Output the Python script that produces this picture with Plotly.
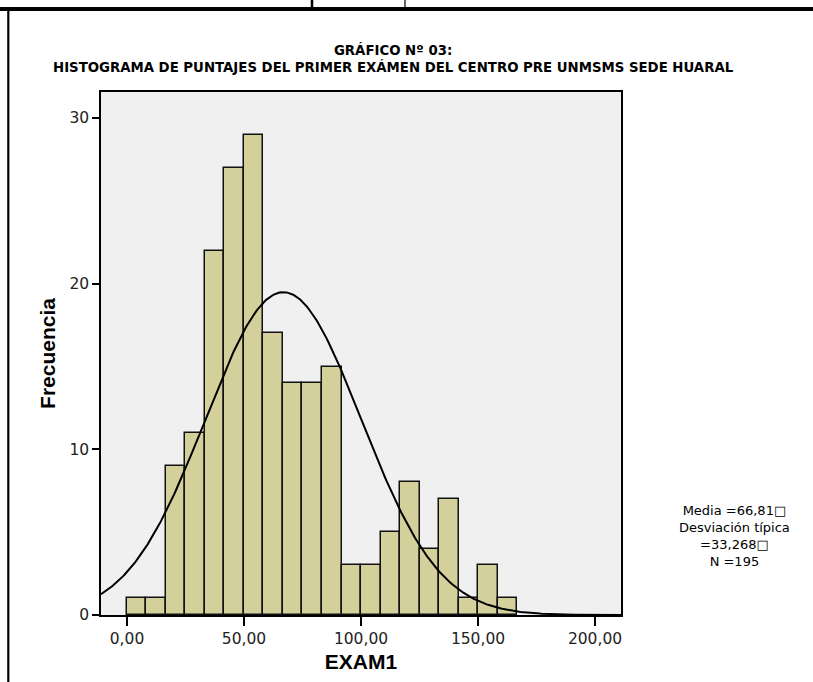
import numpy as np
import plotly.graph_objects as go

# ---- data ----
counts = [1, 1, 9, 11, 22, 27, 29, 17, 14, 14, 15, 3, 3, 5, 8, 4, 7, 1, 3, 1]
bin_start = 0.0
bin_width = 50.0 / 6.0
mean_val = 66.81
sd_val = 33.268
n_val = 195
x_tickvals = [0, 50, 100, 150, 200]
x_ticktext = ["0,00", "50,00", "100,00", "150,00", "200,00"]
y_tickvals = [0, 10, 20, 30]
title_lines = ["GRÁFICO Nº 03:",
               "HISTOGRAMA DE PUNTAJES DEL PRIMER EXÁMEN DEL CENTRO PRE UNMSMS SEDE HUARAL"]
stats_text = ["Media =66,81\u25a1", "Desviación típica", "=33,268\u25a1", "N =195"]

X_RANGE = [-11.1, 211.1]
Y_RANGE = [0, 31.57]

centers = [bin_start + (i + 0.5) * bin_width for i in range(len(counts))]

# normal curve from the reported statistics
xs = np.linspace(X_RANGE[0], X_RANGE[1], 400)
ys = n_val * bin_width / (sd_val * np.sqrt(2 * np.pi)) * np.exp(-0.5 * ((xs - mean_val) / sd_val) ** 2)

fig = go.Figure()
fig.add_trace(go.Bar(
    x=centers, y=counts, width=bin_width,
    marker=dict(color="#d3d09b", line=dict(color="#111111", width=1.5)),
    hoverinfo="x+y", showlegend=False,
))
fig.add_trace(go.Scatter(
    x=xs, y=ys, mode="lines", line=dict(color="#000000", width=2),
    hoverinfo="skip", showlegend=False,
))

SANS = "Liberation Sans, Arial, Helvetica, sans-serif"
WIDE = "DejaVu Sans, Verdana, sans-serif"

# page geometry helpers (pixels -> paper)
L, R, T, B = 101, 621, 92, 615
W, H = 813, 682
def px(x):
    return (x - L) / (R - L)
def py(y):
    return (B - y) / (B - T)

shapes = [
    # top thick band
    dict(type="rect", xref="paper", yref="paper", x0=px(-5), x1=px(820), y0=py(11), y1=py(7),
         fillcolor="black", line=dict(width=0), layer="above"),
    # small box on top
    dict(type="line", xref="paper", yref="paper", x0=px(312), x1=px(312), y0=py(8), y1=py(-5),
         line=dict(color="black", width=2.5)),
    dict(type="line", xref="paper", yref="paper", x0=px(405), x1=px(405), y0=py(8), y1=py(-5),
         line=dict(color="black", width=1.2)),
    # left vertical rule
    dict(type="line", xref="paper", yref="paper", x0=px(8.3), x1=px(8.3), y0=py(10), y1=py(690),
         line=dict(color="black", width=2.2)),
]

annotations = [
    dict(text="<b>" + "<br>".join(title_lines) + "</b>", xref="paper", yref="paper",
         x=px(393), y=py(59), xanchor="center", yanchor="middle", showarrow=False,
         align="center", font=dict(family=WIDE, size=13.3, color="#000000")),
    dict(text="<br>".join(stats_text), xref="paper", yref="paper",
         x=px(734), y=py(536), xanchor="center", yanchor="middle", showarrow=False,
         align="center", font=dict(family=WIDE, size=13, color="#000000")),
]

fig.update_layout(
    width=W, height=H,
    margin=dict(l=L, r=W - R, t=T, b=H - B),
    paper_bgcolor="white", plot_bgcolor="#f0f0f0",
    bargap=0,
    shapes=shapes, annotations=annotations,
    font=dict(family=SANS, size=13, color="#000000"),
)
fig.update_xaxes(
    range=X_RANGE, tickvals=x_tickvals, ticktext=x_ticktext,
    ticks="outside", ticklen=9, tickwidth=2, tickcolor="black",
    showgrid=False, zeroline=False,
    showline=True, linecolor="black", linewidth=1.5, mirror=True,
    tickfont=dict(family=WIDE, size=15.5, color="#222222"),
    title=dict(text="<b>EXAM1</b>", font=dict(family=SANS, size=21, color="#000000"), standoff=7),
)
fig.update_yaxes(
    range=Y_RANGE, tickvals=y_tickvals,
    ticks="outside", ticklen=7, tickwidth=1.5, tickcolor="black",
    showgrid=False, zeroline=False,
    showline=True, linecolor="black", linewidth=1.5, mirror=True,
    tickfont=dict(family=WIDE, size=15.5, color="#222222"),
    title=dict(text="<b>Frecuencia</b>", font=dict(family=SANS, size=21, color="#000000"), standoff=8),
)

fig.write_html("out.html",
               config={"displayModeBar": False},
               post_script="document.body.style.margin='0';document.body.style.overflow='hidden';")
